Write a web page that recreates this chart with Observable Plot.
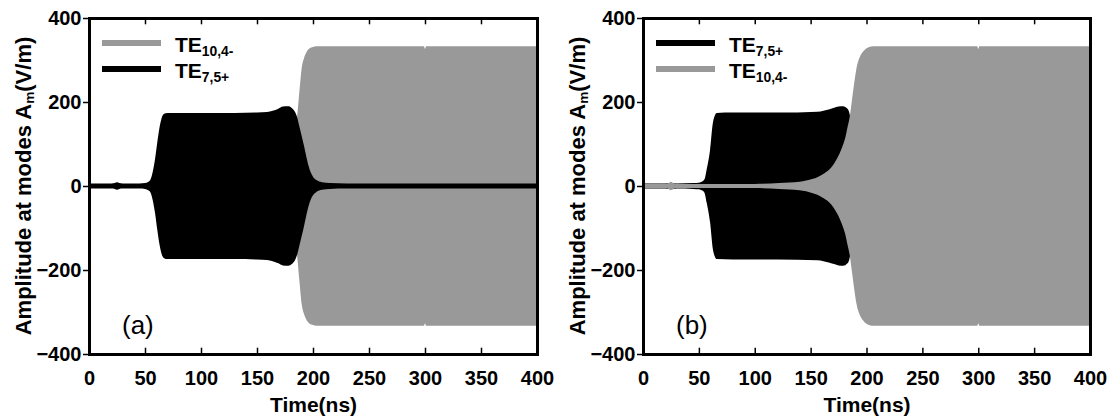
<!DOCTYPE html>
<html><head><meta charset="utf-8">
<script src="https://cdn.jsdelivr.net/npm/d3@7"></script>
<script src="https://cdn.jsdelivr.net/npm/@observablehq/plot@0.6"></script>
<style>
body{margin:0;background:#fff;}
#wrap{position:relative;width:1112px;height:418px;display:flex;font-family:"Liberation Sans",Arial,sans-serif;color:#000;}
.panel{position:relative;width:556px;height:418px;}
.panel svg{display:block;}
.ylab{position:absolute;font-weight:bold;font-size:22px;white-space:nowrap;transform:translate(-50%,-50%) rotate(-90deg);line-height:1;}
.ylab sub{font-size:0.62em;vertical-align:-0.25em;}
.tag{position:absolute;font-size:26px;line-height:1;}
.sw{position:absolute;height:6px;}
.lt{position:absolute;font-weight:bold;font-size:21px;line-height:1;white-space:nowrap;}
.lt sub{font-size:0.66em;vertical-align:-0.3em;}
</style>
</head><body>
<div id="wrap"></div>
<script>
// ---- tick values ----
const xTicks = [0, 50, 100, 150, 200, 250, 300, 350, 400];
const yTicks = [-400, -200, 0, 200, 400];

// ---- series names ----
const nameGray = "TE10,4-";
const nameBlack = "TE7,5+";

// ---- panel (a): envelope amplitudes (V/m) vs time (ns) ----
const tA_black  = [0, 20, 23, 25, 27, 30, 40, 45, 50, 53, 55, 57, 59, 61, 63, 65, 67, 70, 100, 130, 150, 159, 164, 169, 173, 178, 181, 184, 186, 188, 190, 192, 194, 196, 198, 200, 203, 208, 215, 230, 400];
const ampA_black = [6, 6, 7, 9, 7, 6, 6, 6, 7, 10, 16, 35, 65, 105, 140, 163, 172, 174, 174, 174, 175, 176, 179, 184, 189, 190, 186, 176, 162, 140, 118, 95, 70, 48, 32, 22, 14, 9, 7, 6, 6];
const tA_gray   = [0, 150, 175, 180, 183, 186, 188, 190, 192, 194, 197, 200, 203, 299, 300, 301, 400];
const ampA_gray = [4, 4, 30, 60, 100, 170, 230, 283, 305, 318, 328, 331, 333, 333, 327, 333, 333];

// ---- panel (b) ----
const tB_black  = [0, 20, 23, 25, 27, 30, 45, 50, 53, 55, 57, 60, 62.5, 64, 66, 80, 120, 156, 167, 175, 179, 183, 185, 187, 190, 195, 200, 400];
const ampB_black = [6, 6, 7, 8, 7, 6, 7, 8, 11, 16, 40, 86, 150, 166, 174, 175, 175, 177, 183, 189, 190, 184, 170, 120, 50, 10, 6, 6];
const tB_gray   = [0, 20, 23, 25, 27, 30, 100, 122, 140, 152, 156, 162, 167, 172, 176, 179, 181, 183, 185, 187, 189, 191, 194, 197, 200, 206, 299, 300, 301, 400];
const ampB_gray = [5, 5, 7, 10, 7, 5, 5, 7, 10, 17, 21, 30, 40, 58, 78, 98, 115, 140, 165, 205, 245, 280, 307, 320, 328, 333, 333, 327, 333, 333];

const GRAY = "#999999";
const BLACK = "#000000";

function rows(ts, as) { return ts.map((t, i) => ({t, a: as[i]})); }

function panel(opts) {
  const {first, second, ml, mr, tag, legend} = opts;
  const div = document.createElement("div");
  div.className = "panel";
  const W = 556, H = 418, mt = 18, mb = 64;
  const innerTicks = xTicks.slice(1, -1);
  const plot = Plot.plot({
    width: W, height: H,
    marginLeft: ml, marginRight: mr, marginTop: mt, marginBottom: mb,
    x: {domain: [0, 400]},
    y: {domain: [-400, 400]},
    style: {fontFamily: '"Liberation Sans", Arial, sans-serif', background: "#fff", color: "#000"},
    marks: [
      Plot.areaY(first.data, {x: "t", y1: d => -d.a, y2: d => d.a, fill: first.color, curve: "monotone-x"}),
      Plot.areaY(second.data, {x: "t", y1: d => -d.a, y2: d => d.a, fill: second.color, curve: "monotone-x"}),
      Plot.axisX({anchor: "bottom", ticks: xTicks, tickSize: 0, tickPadding: 16, fontSize: 20, fontWeight: "bold", label: null}),
      // inward tick marks along the bottom and top edges of the frame
      Plot.ruleX(innerTicks, {x: d => d, y1: yTicks[0], y2: yTicks[0] + 15, stroke: "#000", strokeWidth: 1.5}),
      Plot.ruleX(innerTicks, {x: d => d, y1: yTicks[yTicks.length - 1], y2: yTicks[yTicks.length - 1] - 15, stroke: "#000", strokeWidth: 1.5}),
      Plot.axisY({anchor: "left", ticks: yTicks, tickSize: 6, tickPadding: 2, strokeWidth: 1.5, fontSize: 20, fontWeight: "bold", label: null}),
      Plot.frame({stroke: "#000", strokeWidth: 3}),
      Plot.text(["Time(ns)"], {frameAnchor: "bottom", dy: 51, lineAnchor: "middle", fontSize: 21, fontWeight: "bold"})
    ]
  });
  div.appendChild(plot);

  const yl = document.createElement("div");
  yl.className = "ylab";
  yl.innerHTML = "Amplitude at modes A<sub>m</sub>(V/m)";
  yl.style.left = (ml - 64) + "px";
  yl.style.top = (mt + (H - mt - mb) / 2) + "px";
  div.appendChild(yl);

  const tg = document.createElement("div");
  tg.className = "tag";
  tg.textContent = tag;
  tg.style.left = (ml + 33) + "px";
  tg.style.top = "312px";
  div.appendChild(tg);

  legend.forEach((it, i) => {
    const y = 43 + i * 26;
    const sw = document.createElement("div");
    sw.className = "sw";
    sw.style.background = it.color;
    sw.style.left = (ml + 13) + "px";
    sw.style.width = "59px";
    sw.style.top = (y - 3) + "px";
    div.appendChild(sw);
    const lt = document.createElement("div");
    lt.className = "lt";
    const m = it.name.match(/^(TE)(.*)$/);
    lt.innerHTML = m[1] + "<sub>" + m[2] + "</sub>";
    lt.style.left = (ml + 86) + "px";
    lt.style.top = (y - 9) + "px";
    div.appendChild(lt);
  });
  return div;
}

const wrap = document.getElementById("wrap");
const aGray = {data: rows(tA_gray, ampA_gray), color: GRAY};
const aBlack = {data: rows(tA_black, ampA_black), color: BLACK};
const bGray = {data: rows(tB_gray, ampB_gray), color: GRAY};
const bBlack = {data: rows(tB_black, ampB_black), color: BLACK};

wrap.appendChild(panel({first: aGray, second: aBlack, ml: 89, mr: 19, tag: "(a)",
  legend: [{name: nameGray, color: GRAY}, {name: nameBlack, color: BLACK}]}));
wrap.appendChild(panel({first: bBlack, second: bGray, ml: 87, mr: 22, tag: "(b)",
  legend: [{name: nameBlack, color: BLACK}, {name: nameGray, color: GRAY}]}));
</script>
</body></html>
